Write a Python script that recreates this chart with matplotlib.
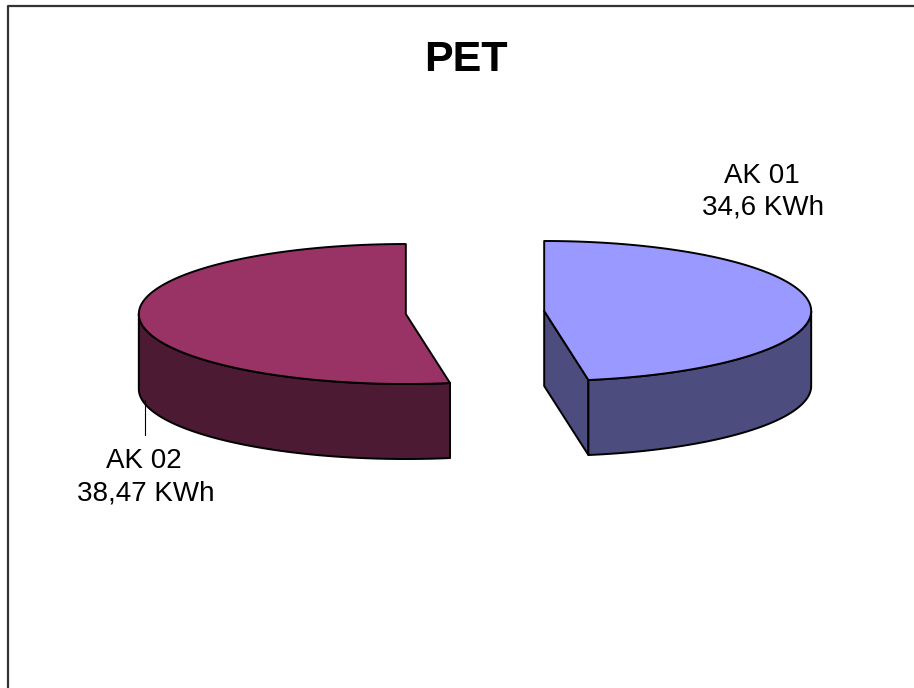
import numpy as np
import matplotlib.pyplot as plt
from matplotlib.patches import Polygon

# energy use per compressor
names = ['AK 01', 'AK 02']
kwh = [34.6, 38.47]
top_colors = ['#9999FF', '#993366']
side_colors = ['#4C4C7E', '#4C1A33']

plt.rcParams['font.family'] = ['Liberation Sans', 'DejaVu Sans']

W, H = 914, 688
fig = plt.figure(figsize=(W / 100, H / 100), dpi=100)
ax = fig.add_axes([0, 0, 1, 1])
ax.set_xlim(0, W)
ax.set_ylim(H, 0)
ax.axis('off')

# pie geometry in pixels: centre, radii of the tilted ellipse, wall depth
cx, cy = 475, 312.5
rx, ry = 267, 70
depth = 75
explode = 0.26


def pt(x0, y0, ang, r=1.0, dz=0):
    a = np.radians(ang)
    return x0 + rx * r * np.cos(a), y0 - ry * r * np.sin(a) + dz


def arc(x0, y0, t1, t2, dz=0, n=120):
    t = np.linspace(t1, t2, n)
    xs, ys = pt(x0, y0, t, dz=dz)
    return np.column_stack([xs, ys])


def front_parts(t1, t2):
    # pieces of [t1, t2] that lie on the front half of the ellipse
    parts = []
    for lo, hi in [(-180, 0), (180, 360), (540, 720)]:
        a, b = max(t1, lo), min(t2, hi)
        if b > a:
            parts.append((a, b))
    return parts


edge = dict(edgecolor='black', linewidth=1.4, joinstyle='round')

total = sum(kwh)
start = 90.0
label_pos = {'AK 01': [(762, 183), (763, 215)],
             'AK 02': [(144, 468), (146, 500)]}

for name, val, ctop, cside in zip(names, kwh, top_colors, side_colors):
    span = 360 * val / total
    # slices run clockwise from 12 o'clock
    t2 = start
    t1 = start - span
    start = t1
    mid = np.radians((t1 + t2) / 2)
    x0 = cx + rx * explode * np.cos(mid)
    y0 = cy - ry * explode * np.sin(mid)

    # radial faces turned towards the viewer
    for t, sgn in [(t1, -1), (t2, 1)]:
        normal = np.radians(t + sgn * 90)
        if np.sin(normal) < -1e-6:
            px, py = pt(x0, y0, t)
            face = [(x0, y0), (px, py), (px, py + depth), (x0, y0 + depth)]
            ax.add_patch(Polygon(face, closed=True, facecolor=cside, **edge))

    # outer wall
    for a, b in front_parts(t1, t2):
        upper = arc(x0, y0, a, b)
        lower = arc(x0, y0, b, a, dz=depth)
        ax.add_patch(Polygon(np.vstack([upper, lower]), closed=True,
                             facecolor=cside, **edge))

    # top surface
    top = np.vstack([[[x0, y0]], arc(x0, y0, t1, t2)])
    ax.add_patch(Polygon(top, closed=True, facecolor=ctop, **edge))

    text = [name, ('%g' % val).replace('.', ',') + ' KWh']
    for s, (tx, ty) in zip(text, label_pos[name]):
        ax.text(tx, ty, s, fontsize=20, ha='center', va='baseline',
                color='black')

# leader line for the left label
ax.plot([145, 145], [400, 435], color='black', linewidth=0.8)

ax.text(466, 71, 'PET', fontsize=31, fontweight='bold', ha='center',
        va='baseline')

# chart area frame
ax.plot([8, 8, W + 5], [H + 5, 6, 6], color='#333333', linewidth=1.6,
        clip_on=False)

fig.savefig('out.png', dpi=100)
